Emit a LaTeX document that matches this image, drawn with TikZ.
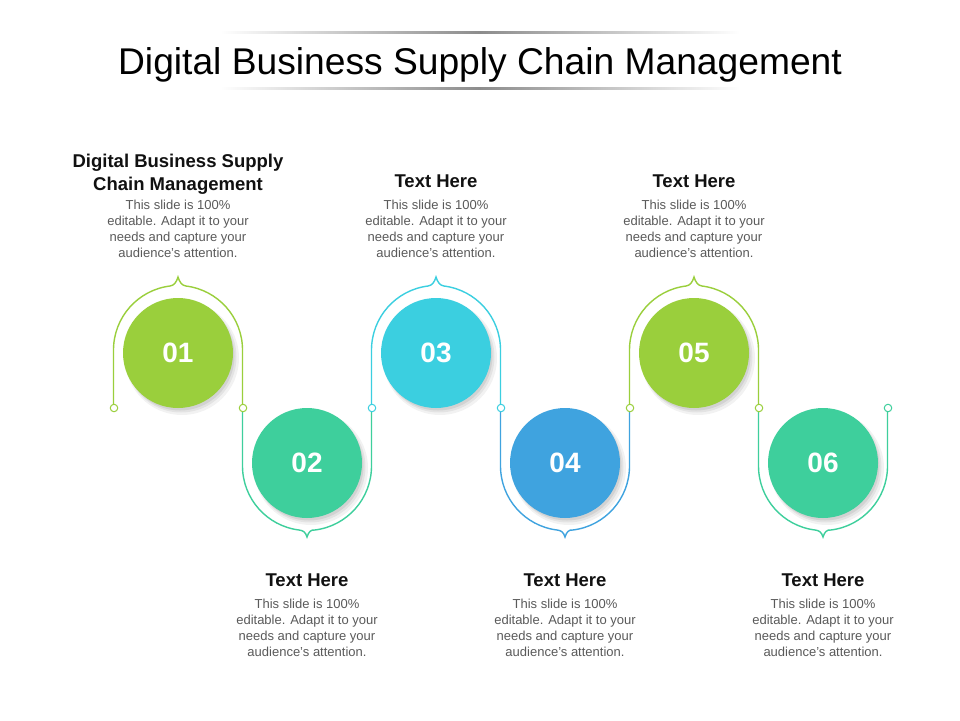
\documentclass[tikz,border=0pt]{standalone}
\usepackage{fontspec}
\setmainfont{Liberation Sans}
\usetikzlibrary{shadings}
\definecolor{cLime}{HTML}{9ACF3C}
\definecolor{cTeal}{HTML}{3ECF9C}
\definecolor{cCyan}{HTML}{3BCFE0}
\definecolor{cBlue}{HTML}{3FA3DF}
\definecolor{cBody}{HTML}{5A5A5A}
\definecolor{cHead}{HTML}{111111}
\tikzset{
  numcircle/.style={circle,minimum size=110pt,inner sep=0pt,text=white,font=\fontsize{28}{30}\selectfont\bfseries},
  framepath/.style={line width=1.4pt},
  jdot/.style={circle,fill=white,line width=1pt,minimum size=7.5pt,inner sep=0pt},
  bodytext/.style={align=center,text=cBody,font=\fontsize{13}{16}\selectfont,inner sep=0pt},
  headtext/.style={align=center,text=cHead,font=\fontsize{18.5}{23}\selectfont\bfseries,inner sep=0pt},
}
\newcommand{\topframe}[2]{% center x, color
  \draw[framepath,#2] (#1-64.5,-408) -- (#1-64.5,-350) arc[start angle=180,end angle=97,radius=64.5]
    .. controls +(4,0.5) and (#1-1.5,-282) .. (#1,-277)
    .. controls (#1+1.5,-282) and (#1+3.9,-285.5) .. (#1+7.86,-286)
    arc[start angle=83,end angle=0,radius=64.5] -- (#1+64.5,-408);}
\newcommand{\botframe}[2]{%
  \draw[framepath,#2] (#1-64.5,-408) -- (#1-64.5,-466) arc[start angle=180,end angle=263,radius=64.5]
    .. controls +(4,-0.5) and (#1-1.5,-532) .. (#1,-537)
    .. controls (#1+1.5,-532) and (#1+3.9,-529.5) .. (#1+7.86,-530)
    arc[start angle=277,end angle=360,radius=64.5] -- (#1+64.5,-408);}
\newcommand{\cshadow}[2]{%
  \fill[black,opacity=0.05] (#1+4,#2-5) circle (57pt);
  \fill[black,opacity=0.06] (#1+3,#2-4) circle (55.5pt);
  \fill[black,opacity=0.07] (#1+2,#2-3) circle (54.5pt);}
\begin{document}
\begin{tikzpicture}[x=1pt,y=1pt]
\useasboundingbox (0,0) rectangle (960,-720);
\fill[white] (0,0) rectangle (960,-720);
% title lines
\shade[left color=white,right color=white,middle color=black!45] (220,-31) rectangle (740,-33);
\shade[left color=white,right color=white,middle color=black!45] (220,-87) rectangle (740,-89);
\node[inner sep=0pt,font=\fontsize{37.2}{40}\selectfont,text=black] (title) at (480,-65) {Digital Business Supply Chain Management};
% frames
\topframe{178}{cLime}
\botframe{307}{cTeal}
\topframe{436}{cCyan}
\botframe{565}{cBlue}
\topframe{694}{cLime}
\botframe{823}{cTeal}
% junction dots
\node[jdot,draw=cLime] (d1) at (114,-408) {};
\node[jdot,draw=cLime] (d2) at (243,-408) {};
\node[jdot,draw=cCyan] (d3) at (372,-408) {};
\node[jdot,draw=cCyan] (d4) at (501,-408) {};
\node[jdot,draw=cLime] (d5) at (630,-408) {};
\node[jdot,draw=cLime] (d6) at (759,-408) {};
\node[jdot,draw=cTeal] (d7) at (888,-408) {};
% circles with shadows
\cshadow{178}{-353}\cshadow{307}{-463}\cshadow{436}{-353}
\cshadow{565}{-463}\cshadow{694}{-353}\cshadow{823}{-463}
\node[numcircle,fill=cLime] (c1) at (178,-353) {01};
\node[numcircle,fill=cTeal] (c2) at (307,-463) {02};
\node[numcircle,fill=cCyan] (c3) at (436,-353) {03};
\node[numcircle,fill=cBlue] (c4) at (565,-463) {04};
\node[numcircle,fill=cLime] (c5) at (694,-353) {05};
\node[numcircle,fill=cTeal] (c6) at (823,-463) {06};
% headings
\node[headtext] (h1) at (178,-174) {Digital Business Supply\\Chain Management};
\node[headtext] (h3) at (436,-181) {Text Here};
\node[headtext] (h5) at (694,-181) {Text Here};
\node[headtext] (h2) at (307,-580) {Text Here};
\node[headtext] (h4) at (565,-580) {Text Here};
\node[headtext] (h6) at (823,-580) {Text Here};
% body texts
\foreach \n/\x/\y in {b1/178/-229,b3/436/-229,b5/694/-229,b2/307/-628,b4/565/-628,b6/823/-628}{
  \node[bodytext] (\n) at (\x,\y) {This slide is 100\%\\editable. Adapt it to your\\needs and capture your\\audience's attention.};
}
\end{tikzpicture}
\end{document}
